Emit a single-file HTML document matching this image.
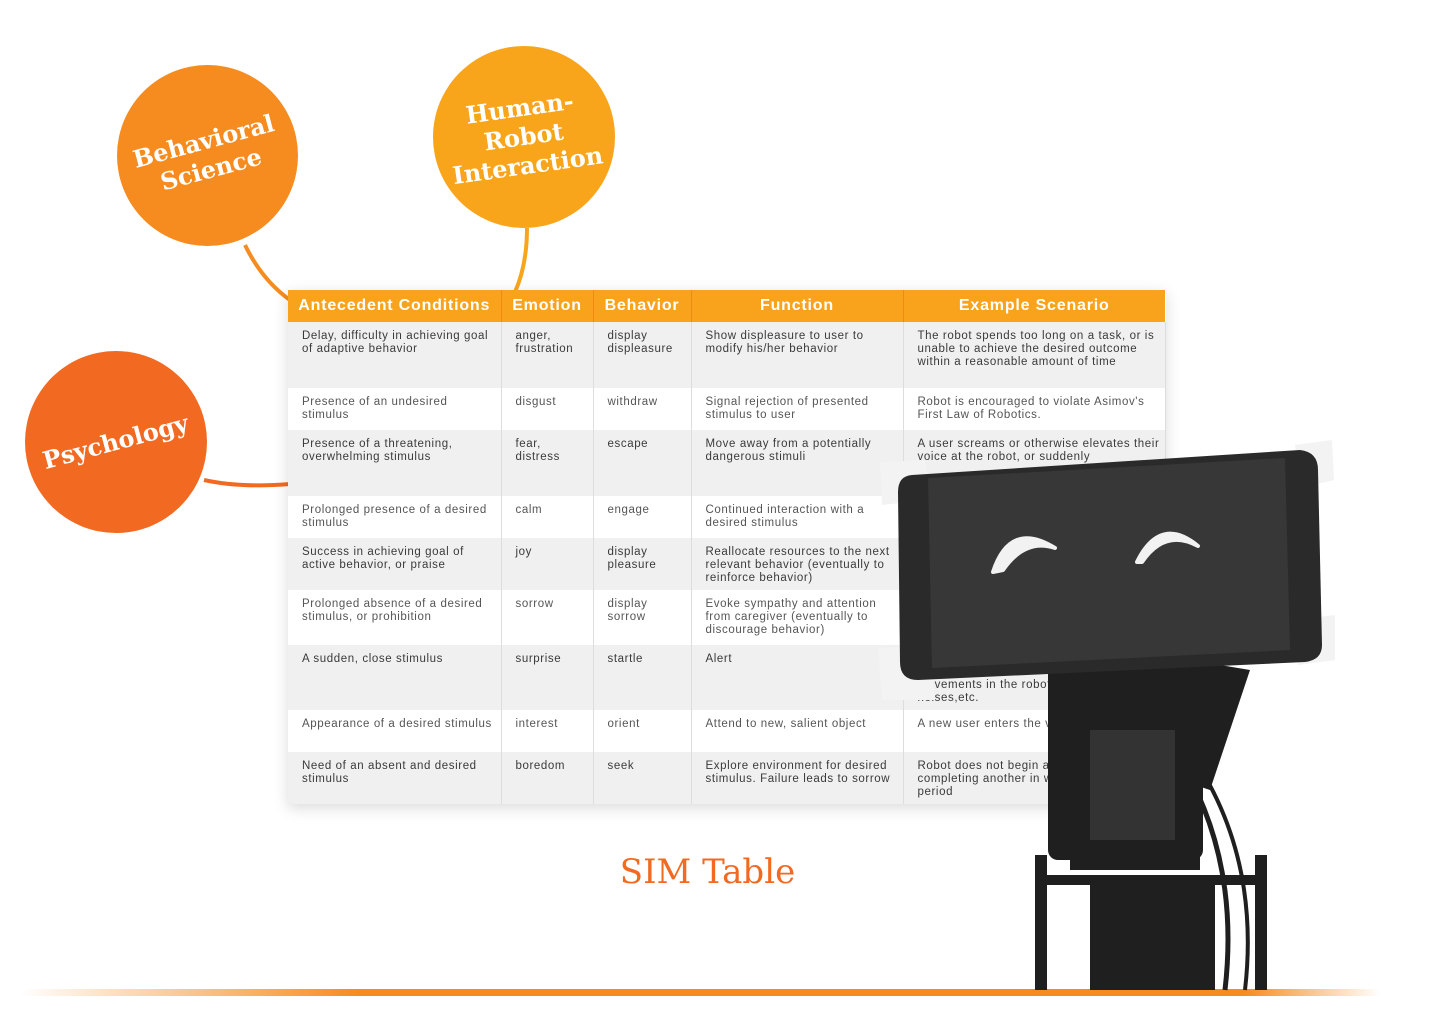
<!DOCTYPE html>
<html><head><meta charset="utf-8"><style>
body{margin:0;width:1440px;height:1024px;background:#fff;position:relative;overflow:hidden;font-family:"Liberation Sans",sans-serif}
.circ{position:absolute;border-radius:50%;display:flex;align-items:center;justify-content:center;color:#fff;font-family:"DejaVu Serif",serif;font-weight:bold;font-size:24px;text-align:center;line-height:1.2}
.circ span{display:block}
table{position:absolute;left:288px;top:290px;width:877px;border-collapse:collapse;table-layout:fixed;box-shadow:0 4px 14px rgba(0,0,0,.15);font-size:11.5px;letter-spacing:.6px;color:#3a3a3a}
th{background:#f9a31c;color:#fff;font-size:16px;height:32px;padding:0;letter-spacing:.8px;border-right:1px solid #f08a10}
td{vertical-align:top;padding:8px 4px 0 14px;line-height:13px;border-right:1px solid #ddd;overflow:hidden}
tr.g td{background:#f0f0f0}
tr.w td{background:#fff;color:#555}
</style></head><body>
<svg style="position:absolute;left:0;top:0" width="1440" height="1024">
<path d="M245 245 Q262 280 290 300" stroke="#f68b1f" stroke-width="4" fill="none"/>
<path d="M527 228 Q527 265 515 292" stroke="#f9a51c" stroke-width="4" fill="none"/>
<path d="M204 480 Q240 488 290 484" stroke="#f26a21" stroke-width="4" fill="none"/>
<defs><linearGradient id="bl" x1="0" x2="1"><stop offset="0" stop-color="#f68b1f" stop-opacity="0"/><stop offset=".25" stop-color="#f68b1f"/><stop offset=".9" stop-color="#f68b1f"/><stop offset="1" stop-color="#f68b1f" stop-opacity="0"/></linearGradient></defs>
<rect x="20" y="989" width="1360" height="7" fill="url(#bl)"/>
</svg>
<div class="circ" style="left:117px;top:65px;width:181px;height:181px;background:#f68b1f"><div style="transform:rotate(-15deg)"><span>Behavioral</span><span>Science</span></div></div>
<div class="circ" style="left:433px;top:46px;width:182px;height:182px;background:#f9a51c"><div style="transform:rotate(-8deg)"><span>Human-</span><span>Robot</span><span>Interaction</span></div></div>
<div class="circ" style="left:25px;top:351px;width:182px;height:182px;background:#f26a21"><div style="transform:rotate(-15deg)"><span>Psychology</span></div></div>
<table>
<colgroup><col style="width:213px"><col style="width:92px"><col style="width:98px"><col style="width:212px"><col style="width:262px"></colgroup>
<tr><th>Antecedent Conditions</th><th>Emotion</th><th>Behavior</th><th>Function</th><th style="border:none">Example Scenario</th></tr>
<tr class="g" style="height:66px"><td>Delay, difficulty in achieving goal of adaptive behavior</td><td>anger, frustration</td><td>display displeasure</td><td>Show displeasure to user to modify his/her behavior</td><td>The robot spends too long on a task, or is unable to achieve the desired outcome within a reasonable amount of time</td></tr>
<tr class="w" style="height:42px"><td>Presence of an undesired stimulus</td><td>disgust</td><td>withdraw</td><td>Signal rejection of presented stimulus to user</td><td>Robot is encouraged to violate Asimov's First Law of Robotics.</td></tr>
<tr class="g" style="height:66px"><td>Presence of a threatening, overwhelming stimulus</td><td>fear, distress</td><td>escape</td><td>Move away from a potentially dangerous stimuli</td><td>A user screams or otherwise elevates their voice at the robot, or suddenly</td></tr>
<tr class="w" style="height:42px"><td>Prolonged presence of a desired stimulus</td><td>calm</td><td>engage</td><td>Continued interaction with a desired stimulus</td><td></td></tr>
<tr class="g" style="height:52px"><td>Success in achieving goal of active behavior, or praise</td><td>joy</td><td>display pleasure</td><td>Reallocate resources to the next relevant behavior (eventually to reinforce behavior)</td><td></td></tr>
<tr class="w" style="height:55px"><td>Prolonged absence of a desired stimulus, or prohibition</td><td>sorrow</td><td>display sorrow</td><td>Evoke sympathy and attention from caregiver (eventually to discourage behavior)</td><td></td></tr>
<tr class="g" style="height:65px"><td>A sudden, close stimulus</td><td>surprise</td><td>startle</td><td>Alert</td><td style="padding-top:34px">movements in the robot's sudden loud noises,etc.</td></tr>
<tr class="w" style="height:42px"><td>Appearance of a desired stimulus</td><td>interest</td><td>orient</td><td>Attend to new, salient object</td><td>A new user enters the view</td></tr>
<tr class="g" style="height:52px"><td>Need of an absent and desired stimulus</td><td>boredom</td><td>seek</td><td>Explore environment for desired stimulus. Failure leads to sorrow</td><td>Robot does not begin a new after completing another in within a short, given period</td></tr>
</table>
<div style="position:absolute;left:560px;top:852px;width:295px;text-align:center;color:#f26a21;font-family:'DejaVu Serif',serif;font-size:34px">SIM Table</div>
<svg style="position:absolute;left:0;top:0" width="1440" height="1024">
<g fill="#1f1f1f">
<rect x="1048" y="660" width="155" height="200" rx="10"/>
<path d="M1190 660 L1250 670 L1210 790 L1180 780Z"/>
<rect x="1070" y="850" width="130" height="20"/>
<rect x="1035" y="855" width="12" height="135"/><rect x="1255" y="855" width="12" height="135"/>
<rect x="1035" y="875" width="232" height="10"/>
<rect x="1090" y="885" width="125" height="105"/>
<path d="M1180 760 Q1240 860 1225 990" stroke="#1f1f1f" stroke-width="5" fill="none"/>
<path d="M1195 760 Q1260 860 1245 990" stroke="#1f1f1f" stroke-width="4" fill="none"/>
</g>
<rect x="1090" y="730" width="85" height="110" fill="#333"/>
<path d="M880 462 L925 460 L930 500 L882 505Z" fill="#f3f3f3"/>
<path d="M1295 445 L1332 440 L1334 480 L1300 488Z" fill="#f3f3f3"/>
<path d="M878 648 L930 645 L935 700 L882 700Z" fill="#f3f3f3"/>
<path d="M1295 620 L1335 615 L1335 660 L1298 665Z" fill="#f3f3f3"/>
<path d="M912 475 L1300 450 Q1318 452 1318 470 L1322 645 Q1322 660 1305 662 L918 680 Q900 680 900 662 L898 492 Q898 476 912 475Z" fill="#2a2a2a"/>
<path d="M928 478 L1285 458 L1290 650 L932 668Z" fill="#373737"/>
<path d="M993 572 Q1010 520 1055 548 Q1025 538 1003 570Z" fill="#f2f2f2" stroke="#f2f2f2" stroke-width="4" stroke-linejoin="round"/>
<path d="M1137 562 Q1160 515 1198 546 Q1165 528 1142 562Z" fill="#f2f2f2" stroke="#f2f2f2" stroke-width="4" stroke-linejoin="round"/>
</svg>
</body></html>
